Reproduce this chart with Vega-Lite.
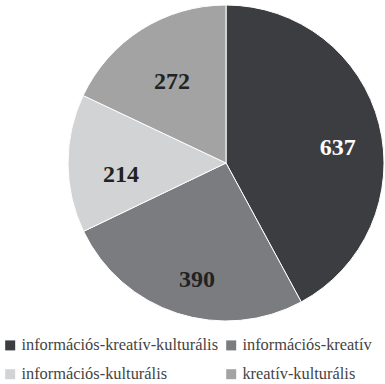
{
  "$schema": "https://vega.github.io/schema/vega-lite/v6.json",
  "width": 316,
  "height": 316,
  "padding": {"left": 68, "top": 5, "right": 1, "bottom": 63},
  "autosize": "none",
  "background": "white",
  "config": {"view": {"stroke": null}},
  "data": {
    "values": [
      {"category": "információs-kreatív-kulturális", "value": 637, "rank": 1},
      {"category": "információs-kreatív", "value": 390, "rank": 2},
      {"category": "információs-kulturális", "value": 214, "rank": 3},
      {"category": "kreatív-kulturális", "value": 272, "rank": 4}
    ]
  },
  "encoding": {
    "theta": {"field": "value", "type": "quantitative", "stack": true},
    "order": {"field": "rank", "type": "quantitative"}
  },
  "layer": [
    {
      "mark": {"type": "arc", "outerRadius": 158, "stroke": "white", "strokeWidth": 1},
      "encoding": {
        "color": {
          "field": "category",
          "type": "nominal",
          "sort": ["információs-kreatív-kulturális", "információs-kulturális", "információs-kreatív", "kreatív-kulturális"],
          "scale": {
            "domain": ["információs-kreatív-kulturális", "információs-kulturális", "információs-kreatív", "kreatív-kulturális"],
            "range": ["#3c3d40", "#d2d3d4", "#7b7c80", "#a3a3a3"]
          },
          "legend": {
            "title": null,
            "orient": "none",
            "legendX": -66,
            "legendY": 332,
            "columns": 2,
            "symbolType": "square",
            "symbolSize": 100,
            "symbolStrokeWidth": 0,
            "labelFont": "Liberation Serif",
            "labelFontSize": 16.4,
            "labelColor": "#444444",
            "labelOffset": 3,
            "rowPadding": 12,
            "columnPadding": 4,
            "labelLimit": 300
          }
        }
      }
    },
    {
      "mark": {"type": "text", "radius": 110, "dx": 5, "dy": 12, "font": "Liberation Serif", "fontWeight": "bold", "fontSize": 24},
      "encoding": {
        "text": {"field": "value", "type": "quantitative"},
        "color": {
          "condition": {"test": "datum.rank === 1", "value": "white"},
          "value": "#222222"
        }
      }
    }
  ]
}
